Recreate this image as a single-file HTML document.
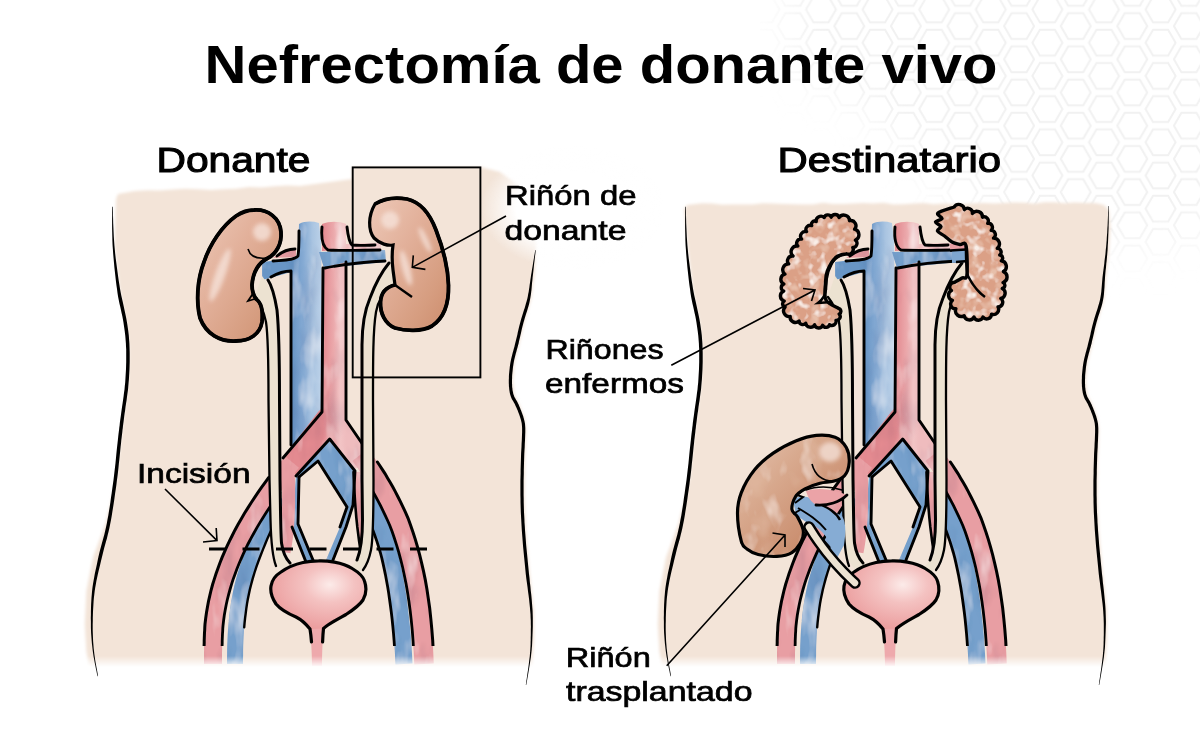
<!DOCTYPE html>
<html><head><meta charset="utf-8"><style>
html,body{margin:0;padding:0;background:#fff;}
body{width:1200px;height:746px;overflow:hidden;}
svg{display:block;}
text{font-family:"Liberation Sans",sans-serif;fill:#000;}
</style></head><body>
<svg width="1200" height="746" viewBox="0 0 1200 746">

<defs>
  <linearGradient id="kid" x1="0" y1="0" x2="1" y2="1">
    <stop offset="0" stop-color="#edc9b8"/><stop offset="0.4" stop-color="#e2b09a"/><stop offset="0.75" stop-color="#d69d80"/><stop offset="1" stop-color="#cc8c6c"/>
  </linearGradient>
  <linearGradient id="kidT" x1="0" y1="0" x2="1" y2="1">
    <stop offset="0" stop-color="#e6c4b1"/><stop offset="0.35" stop-color="#d8a98e"/><stop offset="0.7" stop-color="#cb9071"/><stop offset="1" stop-color="#bf7e5d"/>
  </linearGradient>
  <radialGradient id="blad" cx="0.62" cy="0.35" r="0.75">
    <stop offset="0" stop-color="#fcebe9"/><stop offset="0.35" stop-color="#f4c2c1"/><stop offset="1" stop-color="#e99596"/>
  </radialGradient>
  <linearGradient id="fadeB" gradientUnits="userSpaceOnUse" x1="0" y1="656" x2="0" y2="667">
    <stop offset="0" stop-color="#fff"/><stop offset="1" stop-color="#000"/>
  </linearGradient>
  <mask id="mB" maskUnits="userSpaceOnUse" x="0" y="0" width="1200" height="746">
    <rect x="0" y="0" width="1200" height="746" fill="url(#fadeB)"/>
  </mask>
  <radialGradient id="fadeTR">
    <stop offset="0" stop-color="#fff" stop-opacity="1"/><stop offset="0.6" stop-color="#fff" stop-opacity="1"/><stop offset="1" stop-color="#fff" stop-opacity="0"/>
  </radialGradient>
  <filter id="mottle" x="-0.1" y="-0.1" width="1.2" height="1.2">
    <feTurbulence type="fractalNoise" baseFrequency="0.11" numOctaves="2" seed="7" result="n"/>
    <feColorMatrix in="n" type="matrix" values="0 0 0 0 0.95  0 0 0 0 0.85  0 0 0 0 0.8  0 0 0 -3.6 1.75" result="light"/>
    <feComposite in="light" in2="SourceGraphic" operator="in" result="l2"/>
    <feTurbulence type="fractalNoise" baseFrequency="0.1" numOctaves="2" seed="21" result="n2"/>
    <feColorMatrix in="n2" type="matrix" values="0 0 0 0 0.8  0 0 0 0 0.52  0 0 0 0 0.4  0 0 0 3.4 -1.65" result="dark"/>
    <feComposite in="dark" in2="SourceGraphic" operator="in" result="d2"/>
    <feMerge><feMergeNode in="SourceGraphic"/><feMergeNode in="d2"/><feMergeNode in="l2"/></feMerge>
  </filter>
  <pattern id="hex" patternUnits="userSpaceOnUse" width="56.6" height="33.2" x="1019.1" y="26.1">
    <g fill="none" stroke="#f1f1f1" stroke-width="2">
      <path d="M-15,0 L-7.5,-13 L7.5,-13 L15,0 L7.5,13 L-7.5,13 Z"/>
      <path d="M41.6,0 L49.1,-13 L64.1,-13 L71.6,0 L64.1,13 L49.1,13 Z"/>
      <path d="M41.6,33.2 L49.1,20.2 L64.1,20.2 L71.6,33.2 L64.1,46.2 L49.1,46.2 Z"/>
      <path d="M-15,33.2 L-7.5,20.2 L7.5,20.2 L15,33.2 L7.5,46.2 L-7.5,46.2 Z"/>
      <path d="M13.3,16.6 L20.8,3.6 L35.8,3.6 L43.3,16.6 L35.8,29.6 L20.8,29.6 Z"/>
      <path d="M13.3,-16.6 L20.8,-29.6 L35.8,-29.6 L43.3,-16.6 L35.8,-3.6 L20.8,-3.6 Z"/>
      <path d="M13.3,49.8 L20.8,36.8 L35.8,36.8 L43.3,49.8 L35.8,62.8 L20.8,62.8 Z"/>
    </g>
  </pattern>
  <radialGradient id="hexfade" gradientUnits="userSpaceOnUse" cx="1090" cy="70" r="300" gradientTransform="translate(1090 70) scale(1.15 0.8) translate(-1090 -70)">
    <stop offset="0" stop-color="#fff"/><stop offset="0.55" stop-color="#fff"/><stop offset="1" stop-color="#000"/>
  </radialGradient>
  <filter id="mblur" x="-0.3" y="-0.3" width="1.6" height="1.6"><feGaussianBlur stdDeviation="22"/></filter>
  <mask id="mHex" maskUnits="userSpaceOnUse" x="0" y="0" width="1200" height="746">
    <path d="M790,-30 L1230,-30 L1230,230 L1130,250 L1040,235 L960,200 L900,150 L860,105 L800,80 L785,40 Z" fill="#fff" filter="url(#mblur)"/>
  </mask>
  <linearGradient id="gVC" gradientUnits="userSpaceOnUse" x1="292" y1="0" x2="321" y2="0">
    <stop offset="0" stop-color="#6895c5"/><stop offset="0.4" stop-color="#86abd4"/><stop offset="0.7" stop-color="#a9c4e1"/><stop offset="1" stop-color="#bbd1e8"/>
  </linearGradient>
  <linearGradient id="gAo" gradientUnits="userSpaceOnUse" x1="323" y1="0" x2="346" y2="0">
    <stop offset="0" stop-color="#e38a90"/><stop offset="0.45" stop-color="#eba8ab"/><stop offset="0.75" stop-color="#f2c4c5"/><stop offset="1" stop-color="#efbcbe"/>
  </linearGradient>
  <filter id="blur2" x="-0.5" y="-0.5" width="2" height="2"><feGaussianBlur stdDeviation="2"/></filter>
  <filter id="wcK" x="-0.05" y="-0.05" width="1.1" height="1.1">
    <feTurbulence type="fractalNoise" baseFrequency="0.05 0.03" numOctaves="3" seed="11" result="n"/>
    <feColorMatrix in="n" type="matrix" values="0 0 0 0 0.92  0 0 0 0 0.78  0 0 0 0 0.7  0 0 0 -2.0 0.9" result="light"/>
    <feComposite in="light" in2="SourceGraphic" operator="in" result="l2"/>
    <feTurbulence type="fractalNoise" baseFrequency="0.04" numOctaves="2" seed="5" result="n2"/>
    <feColorMatrix in="n2" type="matrix" values="0 0 0 0 0.74  0 0 0 0 0.47  0 0 0 0 0.34  0 0 0 2.2 -1.15" result="dark"/>
    <feComposite in="dark" in2="SourceGraphic" operator="in" result="d2"/>
    <feMerge><feMergeNode in="SourceGraphic"/><feMergeNode in="d2"/><feMergeNode in="l2"/></feMerge>
  </filter>
  <filter id="wcV" filterUnits="userSpaceOnUse" x="150" y="200" width="350" height="480">
    <feTurbulence type="fractalNoise" baseFrequency="0.06 0.022" numOctaves="3" seed="3" result="n"/>
    <feColorMatrix in="n" type="matrix" values="0 0 0 0 0  0 0 0 0 0  0 0 0 0 0  0 0 0 -2.0 0.95" result="m1"/>
    <feComponentTransfer in="SourceGraphic" result="lighter"><feFuncR type="linear" slope="0.45" intercept="0.55"/><feFuncG type="linear" slope="0.45" intercept="0.55"/><feFuncB type="linear" slope="0.45" intercept="0.55"/></feComponentTransfer>
    <feComposite in="lighter" in2="m1" operator="in" result="l1"/>
    <feComposite in="l1" in2="SourceGraphic" operator="in" result="l2"/>
    <feTurbulence type="fractalNoise" baseFrequency="0.05 0.02" numOctaves="3" seed="9" result="n2"/>
    <feColorMatrix in="n2" type="matrix" values="0 0 0 0 0  0 0 0 0 0  0 0 0 0 0  0 0 0 2.4 -1.1" result="m2"/>
    <feComponentTransfer in="SourceGraphic" result="darker"><feFuncR type="linear" slope="0.8"/><feFuncG type="linear" slope="0.8"/><feFuncB type="linear" slope="0.86"/></feComponentTransfer>
    <feComposite in="darker" in2="m2" operator="in" result="d1"/>
    <feComposite in="d1" in2="SourceGraphic" operator="in" result="d2"/>
    <feMerge><feMergeNode in="SourceGraphic"/><feMergeNode in="d2"/><feMergeNode in="l2"/></feMerge>
  </filter>
  <filter id="bsoft" x="-0.05" y="-0.05" width="1.1" height="1.1"><feGaussianBlur stdDeviation="1.6"/></filter>
  <clipPath id="clipLines"><rect x="0" y="0" width="1200" height="646"/></clipPath>
</defs>

<rect x="760" y="0" width="440" height="300" fill="url(#hex)" mask="url(#mHex)"/>
<g mask="url(#mB)">
<path d="M116.0,199.0 L118.0,194.0 L134.7,190.9 L147.4,190.2 L160.1,190.5 L172.9,189.5 L185.6,188.8 L198.3,189.2 L211.0,190.0 L223.7,189.3 L236.4,188.8 L249.1,187.0 L261.9,187.4 L274.6,186.3 L287.3,185.6 L300.0,186.0 L330.0,182.0 L352.0,179.0 L352.0,167.0 L481.0,167.0 L500.0,172.0 L518.0,185.0 L530.0,205.0 L537.0,230.0 L534.5,275.0 L531.2,299.0 L524.5,322.0 L519.5,343.0 L514.5,363.0 L512.9,381.6 L514.5,395.0 L519.5,405.0 L524.5,418.0 L526.2,430.0 L525.0,460.0 L524.5,495.0 L525.9,530.0 L529.5,570.0 L533.9,610.8 L534.0,640.0 L532.5,659.0 L532.0,672.0 L90.0,672.0 L86.4,651.2 L84.8,624.4 L86.4,590.9 L93.1,557.3 L105.5,523.8 L116.2,480.2 L120.6,440.0 L123.5,416.2 L127.9,382.7 L128.9,349.2 L126.2,322.4 L119.5,288.9 L114.5,245.3 Z" fill="#f3e4d8" filter="url(#bsoft)"/>
<path d="M684.0,209.0 L687.0,205.0 L702.1,203.2 L712.1,203.4 L722.2,204.8 L732.3,204.6 L742.4,204.5 L752.5,204.5 L762.5,203.2 L772.6,203.4 L782.7,204.0 L792.8,204.2 L802.8,204.4 L812.9,204.5 L823.0,202.8 L833.0,203.9 L843.1,204.0 L853.2,203.6 L863.3,202.9 L873.4,203.5 L883.4,202.7 L893.5,204.4 L903.6,204.2 L913.6,203.5 L923.7,203.0 L933.8,204.2 L943.9,203.5 L954.0,204.1 L964.0,204.0 L974.1,203.3 L984.2,203.1 L994.2,203.4 L1004.3,203.1 L1014.4,202.5 L1024.5,202.8 L1034.5,203.8 L1044.6,202.2 L1054.7,202.2 L1064.8,203.3 L1074.8,202.6 L1084.9,203.1 L1095.0,203.0 L1104.0,205.0 L1109.0,210.0 L1110.5,228.0 L1109.0,252.0 L1106.5,275.0 L1104.2,299.0 L1097.5,322.0 L1092.5,343.0 L1087.5,363.0 L1085.9,381.6 L1087.5,395.0 L1092.5,405.0 L1097.5,418.0 L1099.2,430.0 L1098.0,460.0 L1097.5,495.0 L1098.9,530.0 L1102.5,570.0 L1106.9,610.8 L1107.0,640.0 L1105.5,659.0 L1104.0,672.0 L663.0,672.0 L659.4,651.2 L657.8,624.4 L659.4,590.9 L666.1,557.3 L678.5,523.8 L689.2,480.2 L693.6,440.0 L696.5,416.2 L700.9,382.7 L701.9,349.2 L699.2,322.4 L692.5,288.9 L687.5,245.3 Z" fill="#f3e4d8" filter="url(#bsoft)"/>
<ellipse cx="572" cy="208" rx="92" ry="62" fill="url(#fadeTR)"/>

<g id="common">
<g filter="url(#wcV)">
<path d="M299,224 C305,221 312,221 319,223 L321,240 L322,300 L321,445 L292,445 L291,300 L291,272 L270,278 L262,280 L262,262 L298,258 Z" fill="url(#gVC)"/>
<g fill="#76a0cc">
  <path d="M319,252 L385,250 L386,262 L324,268 Z"/>
  <path d="M296,476 L329.7,440 L355,471 L353,505 L346,527 L334,560 L326,560 L340,527 L347,507 L318,461 L299,477 L298,524 L314,560 L306,562 L292,527 Z"/>
</g>
<path d="M279.0,497.0 L276.4,501.8 L273.7,506.9 L271.0,512.1 L268.3,517.5 L265.6,523.1 L263.0,528.9 L260.4,534.7 L257.9,540.6 L255.4,546.6 L253.1,552.6 L250.9,558.6 L248.8,564.6 L246.8,570.6 L245.0,576.5 L243.4,582.3 L242.0,588.0 L240.9,592.9 L240.0,597.7 L239.1,602.6 L238.4,607.5 L237.7,612.3 L237.1,617.1 L236.7,622.0 L236.2,626.8 L235.9,631.5 L235.6,636.3 L235.4,641.0 L235.2,645.7 L235.1,650.3 L235.1,654.9 L235.0,659.5 L235.0,664.0" fill="none" stroke="#76a0cc" stroke-width="16"/>
<path d="M357.0,477.0 L359.1,480.5 L361.2,484.3 L363.4,488.3 L365.7,492.6 L367.9,497.1 L370.2,501.7 L372.4,506.6 L374.6,511.6 L376.8,516.8 L378.9,522.1 L381.0,527.6 L383.0,533.1 L384.9,538.7 L386.7,544.4 L388.4,550.2 L390.0,556.0 L391.3,561.5 L392.5,567.2 L393.7,573.0 L394.9,578.9 L395.9,585.0 L397.0,591.3 L398.0,597.8 L398.9,604.4 L399.7,611.2 L400.5,618.1 L401.3,625.3 L402.0,632.6 L402.6,640.2 L403.1,647.9 L403.6,655.9 L404.0,664.0" fill="none" stroke="#76a0cc" stroke-width="17"/>
</g>
<g clip-path="url(#clipLines)"><path d="M286.0,500.9 L283.4,505.6 L280.8,510.6 L278.1,515.7 L275.5,521.0 L272.9,526.5 L270.3,532.2 L267.7,537.9 L265.3,543.7 L262.9,549.6 L260.6,555.5 L258.4,561.3 L256.3,567.2 L254.4,573.0 L252.7,578.7 L251.2,584.3 L249.8,589.8 L248.8,594.5 L247.8,599.2 L247.0,603.9 L246.3,608.6 L245.7,613.3 L245.1,618.0 L244.6,622.7 L244.2,627.4" fill="none" stroke="#000" stroke-width="2.4" stroke-linecap="round"/><path d="M355.9,492.3 L358.1,496.5 L360.3,500.8 L362.5,505.4 L364.7,510.1 L366.8,515.0 L368.9,520.0 L371.0,525.2 L373.0,530.5 L375.0,535.9 L376.9,541.4 L378.6,546.9 L380.3,552.5 L381.8,558.1 L383.0,563.4 L384.2,568.9 L385.4,574.6 L386.5,580.5 L387.6,586.5 L388.6,592.6 L389.5,599.0 L390.4,605.5 L391.3,612.2 L392.1,619.1 L392.8,626.1 L393.5,633.4 L394.1,640.8 L394.6,648.5 L395.1,656.3 L395.5,664.4" fill="none" stroke="#000" stroke-width="2.8" stroke-linecap="round"/></g>
<g filter="url(#wcV)">
<path d="M322,224 C330,221 338,221 346,224 L346,244 L381,243 L381,250 L322,251 Z" fill="url(#gAo)"/>
<path d="M323,268 L346,262 L346,420 L360,442 L369,458 L354,470 L329.7,440 L296,476 L283,458 L318,412 L322,408 Z" fill="url(#gAo)"/>
<g fill="#e89ea3">
  <path d="M273,258 C280,252 290,249 296,249 L296,257 Z"/>
</g>
<path d="M292.0,462.0 L288.9,465.8 L285.8,469.9 L282.5,474.1 L279.2,478.4 L275.9,482.9 L272.5,487.6 L269.1,492.3 L265.6,497.2 L262.2,502.3 L258.8,507.4 L255.5,512.6 L252.2,518.0 L249.0,523.4 L245.9,528.9 L242.9,534.4 L240.0,540.0 L237.4,545.2 L235.0,550.5 L232.7,555.7 L230.5,560.9 L228.4,566.1 L226.4,571.3 L224.6,576.5 L222.9,581.8 L221.3,587.0 L219.9,592.3 L218.5,597.6 L217.4,603.0 L216.3,608.4 L215.4,613.9 L214.6,619.4 L214.0,625.0 L213.8,627.8 L213.7,630.5 L213.5,633.1 L213.4,635.7 L213.3,638.3 L213.2,640.8 L213.2,643.2 L213.1,645.6 L213.1,648.0 L213.1,650.3 L213.0,652.7 L213.0,655.0 L213.0,657.2 L213.0,659.5 L213.0,661.7 L213.0,664.0" fill="none" stroke="#e89ea3" stroke-width="18"/>
<path d="M360.0,455.0 L362.3,457.9 L364.6,461.0 L366.9,464.2 L369.3,467.6 L371.7,471.1 L374.2,474.9 L376.6,478.8 L379.1,482.9 L381.6,487.1 L384.1,491.6 L386.6,496.2 L389.1,501.0 L391.6,506.0 L394.1,511.1 L396.6,516.5 L399.0,522.0 L401.4,528.5 L403.7,535.2 L406.0,542.2 L408.1,549.5 L410.2,557.1 L412.1,565.0 L413.9,573.2 L415.6,581.8 L417.2,590.6 L418.6,599.9 L419.9,609.6 L421.1,619.6 L422.1,630.0 L422.9,640.9 L423.5,652.2 L424.0,664.0" fill="none" stroke="#e89ea3" stroke-width="19.5"/>
<path d="M288.0,464.0 L288.2,469.8 L288.3,475.6 L288.5,481.3 L288.6,487.0 L288.6,492.7 L288.6,498.3 L288.6,503.9 L288.4,509.5 L288.2,515.0 L287.9,520.5 L287.6,525.9 L287.1,531.2 L286.5,536.5 L285.8,541.7 L285.0,546.9 L284.0,552.0" fill="none" stroke="#e89ea3" stroke-width="13"/>
<path d="M357.0,472.0 L357.2,477.2 L357.4,482.4 L357.7,487.5 L358.0,492.5 L358.3,497.5 L358.6,502.4 L359.0,507.3 L359.4,512.1 L359.8,516.9 L360.3,521.7 L360.8,526.5 L361.4,531.2 L362.0,535.9 L362.6,540.6 L363.3,545.3 L364.0,550.0" fill="none" stroke="#e89ea3" stroke-width="7"/>
</g>
<g clip-path="url(#clipLines)"><path d="M268.6,477.6 L265.2,482.3 L261.7,487.1 L258.2,492.1 L254.7,497.3 L251.3,502.5 L247.9,507.9 L244.5,513.3 L241.2,518.9 L238.0,524.5 L234.9,530.2 L232.0,536.0 L229.3,541.3 L226.8,546.7 L224.4,552.1 L222.1,557.4 L220.0,562.8 L218.0,568.2 L216.1,573.6 L214.3,579.1 L212.6,584.5 L211.1,590.0 L209.8,595.6 L208.5,601.2 L207.5,606.8 L206.5,612.5 L205.7,618.3 L205.0,624.1 L204.8,627.2 L204.7,630.0 L204.5,632.7 L204.4,635.4 L204.3,638.0 L204.2,640.5 L204.2,643.0 L204.1,645.4 L204.1,647.9 L204.1,650.2 L204.0,652.6 L204.0,654.9 L204.0,657.2 L204.0,659.5 L204.0,661.7 L204.0,664.0" fill="none" stroke="#000" stroke-width="3.0" stroke-linecap="round"/><path d="M279.8,492.8 L276.4,497.5 L273.0,502.4 L269.7,507.3 L266.4,512.3 L263.1,517.4 L259.9,522.6 L256.8,527.9 L253.8,533.2 L250.8,538.6 L248.0,544.0 L245.5,549.1 L243.2,554.2 L240.9,559.3 L238.8,564.3 L236.8,569.3 L234.9,574.4 L233.1,579.4 L231.5,584.4 L230.0,589.5 L228.6,594.6 L227.3,599.7 L226.2,604.8 L225.2,610.0 L224.3,615.2 L223.6,620.5 L223.0,625.9 L222.8,628.3 L222.7,631.0 L222.5,633.6 L222.4,636.1 L222.3,638.6 L222.2,641.0 L222.2,643.4 L222.1,645.8 L222.1,648.1 L222.1,650.4 L222.0,652.7 L222.0,655.0 L222.0,657.3 L222.0,659.5 L222.0,661.8 L222.0,664.0" fill="none" stroke="#000" stroke-width="2.8" stroke-linecap="round"/><path d="M377.4,462.0 L379.9,465.7 L382.4,469.6 L385.0,473.6 L387.5,477.9 L390.1,482.3 L392.7,486.8 L395.3,491.6 L397.8,496.5 L400.4,501.6 L402.9,506.9 L405.5,512.4 L408.1,518.3 L410.6,525.2 L413.0,532.2 L415.3,539.4 L417.5,546.9 L419.6,554.7 L421.6,562.8 L423.5,571.2 L425.3,579.9 L426.9,589.0 L428.3,598.5 L429.7,608.3 L430.8,618.6 L431.8,629.2 L432.7,640.3 L433.3,651.8 L433.8,663.6" fill="none" stroke="#000" stroke-width="3.0" stroke-linecap="round"/><path d="M365.9,480.2 L368.3,483.9 L370.7,487.9 L373.1,492.0 L375.5,496.3 L378.0,500.8 L380.4,505.4 L382.8,510.3 L385.2,515.3 L387.6,520.5 L389.9,525.7 L392.2,531.8 L394.4,538.3 L396.6,545.1 L398.7,552.2 L400.7,559.6 L402.6,567.2 L404.3,575.2 L406.0,583.6 L407.5,592.3 L408.9,601.3 L410.2,610.8 L411.3,620.6 L412.3,630.9 L413.1,641.6 L413.7,652.7 L414.2,664.4" fill="none" stroke="#000" stroke-width="2.8" stroke-linecap="round"/><path d="M353.5,472.1 L353.7,477.4 L353.9,482.5 L354.2,487.6 L354.5,492.7 L354.8,497.7 L355.1,502.6 L355.5,507.6 L355.9,512.4 L356.3,517.3 L356.8,522.1 L357.3,526.9 L357.9,531.6 L358.5,536.4 L359.1,541.1 L359.8,545.8 L360.5,550.5" fill="none" stroke="#000" stroke-width="2.6" stroke-linecap="round"/></g>
<g fill="none" stroke="#000" stroke-width="2.9" stroke-linecap="round" stroke-linejoin="round">
  <path d="M299,231 C299,240 299,250 298,256 C295,260 285,260 273,261"/>
  <path d="M271,277 C278,273 286,271 291,271 L291,445"/>
  <path d="M277,256 C283,251 290,249 295,249"/>
  <path d="M322,227 C321,238 323,247 328,250 C345,251 365,250 380,250"/>
  <path d="M347,227 C348,236 349,242 352,245 C360,246 370,245 375,245"/>
  <path d="M325,268 C340,265 360,262 385,261"/>
  <path d="M323,268 L322,412 L283,458"/>
  <path d="M346,262 L346,420 L372,458"/>
  <path d="M296,476 L329.7,439 L355,471 L353,505 L346,527 L333,560"/>
  <path d="M299,477 L318,461 L347,507 L340,527"/>
  <path d="M299,477 L298,524 L313,560"/>
  <path d="M292,527 L306,562"/>
</g>
<path d="M255,296 C259,300 264,312 266,322 C268,335 268.5,360 268.5,400 L269.5,480 L270.5,520 C271,540 273,555 278,564 C281,569 284,572 288,572 L294,566 C288,560 283,553 281.5,543 C280.5,530 280,500 279.5,480 L279,400 C279,360 279,330 276,310 C274,298 270,286 262,276 Z" fill="#ece2d1"/>
<path d="M390,262 C384,268 376,282 370,298 C364,312 362,325 362,345 L362,480 L362.5,520 C362.5,538 361,552 356,561 C354,565 351,567 348,568 L356,574 C362,570 368,562 371,550 C373,540 373.5,525 373.5,480 L373,400 C373,360 373,330 376,312 C378,300 384,292 394,285 Z" fill="#ece2d1"/>
<g fill="none" stroke="#000" stroke-linecap="round">
  <path d="M255,297 C259,302 264,312 266,322 C268,335 268.5,360 268.5,400 L269.5,480 L270.5,520 C271,540 272,556 276,566" stroke-width="2.3"/>
  <path d="M268,280 C272,286 275,298 277,310 C279,330 279.5,360 279.5,400 L280,480 C280.5,505 280.5,530 281.5,543 C283,553 286,559 290,563" stroke-width="3"/>
  <path d="M389,263 C384,269 376,282 370,298 C364,312 362,325 362,345 L362,480 L362.5,520 C362.5,538 361,550 357,560" stroke-width="3"/>
  <path d="M393,285 C385,291 378,300 376,312 C373,330 373,360 373,400 L373.5,480 C373.5,525 373,540 371,550 C369,560 366,566 363,570" stroke-width="2.3"/>
</g>
<path d="M309.5,624 L323.5,624 C322.8,640 322,652 322,666 L312,666 C312,652 311,640 309.5,624 Z" fill="#eea9ac"/>
<path d="M318.7,560.9 C326,560.6 342,562 352.2,568.5 C358,572 363,576 364.5,581 C366.5,587 366.5,594 363,600 C359,606 353,610 346,614.5 C338,619 330,623 323.5,628.5 L310,629 C306,624 302,620 296,617 C289,614 281,610 276,604 C272,598 270,592 271,586 C272,580 276,575 281,572 C288,567 296,564 303,562.5 C308,561.5 313,561 318.7,560.9 Z" fill="url(#blad)"/>
<path d="M311.5,642 C311,636 310.5,632 310,629 C306,624 302,620 296,617 C289,614 281,610 276,604 C272,598 270,592 271,586 C272,580 276,575 281,572 C288,567 296,564 303,562.5 C308,561.5 313,561 318.7,560.9 C326,560.6 342,562 352.2,568.5 C358,572 363,576 364.5,581 C366.5,587 366.5,594 363,600 C359,606 353,610 346,614.5 C338,619 330,623 323.5,628.5 C323,633 322.8,637 322.6,642" fill="none" stroke="#000" stroke-width="3.2" stroke-linecap="round"/>
</g>

<use href="#common" transform="translate(573,0)"/>
</g>

<path d="M254,210 C268,209 280,218 281,232 C282,244 276,254 268,258 C258,263 253,272 252,285 C252,292 254,296 256,299 C262,303 263,312 262,322 C260,334 250,341 236,341 C220,342 206,334 200,318 C196,302 197,280 204,262 C210,244 222,226 236,216 C242,212 248,210 254,210 Z" fill="url(#kid)" stroke="#000" stroke-width="3.2"/>
<g filter="url(#blur2)" fill="#f6e2d9" opacity="0.8">
  <ellipse cx="220" cy="275" rx="5" ry="28" transform="rotate(20 220 275)"/>
  <ellipse cx="262" cy="232" rx="9" ry="9"/>
</g>
<path d="M268,258 C258,263 253,272 252,285 C252,292 254,296 256,299 C262,303 263,312 262,322 C260,334 250,341 236,341 C220,342 206,334 200,318 C196,302 197,280 204,262 C210,244 222,226 236,216 C242,212 248,210 254,210 C268,209 280,218 281,232 C282,244 276,254 268,258" fill="none" stroke="#000" stroke-width="3.8"/>
<path d="M248,249 C250,256 256,259 266,258" fill="none" stroke="#000" stroke-width="1.6"/>
<path d="M254,292 L248,301 L258,298" fill="none" stroke="#000" stroke-width="1.8"/>
<path d="M375,204 C383,199 395,197 407,199 C420,202 430,214 436,230 C443,248 448,268 448.5,285 C449,303 444,318 432,326 C422,332 405,331 395,328 C385,324 380,313 380.5,302 C381,292 386,287 395,285 L393,270 C392,262 392,252 393,245 C388,246 380,244 374,238 C368,230 368,216 375,204 Z" fill="url(#kid)" stroke="#000" stroke-width="3.2"/>
<g filter="url(#blur2)" fill="#f6e2d9" opacity="0.8">
  <ellipse cx="390" cy="220" rx="9" ry="9"/>
  <ellipse cx="406" cy="268" rx="4" ry="18" transform="rotate(-15 406 268)"/>
  <ellipse cx="425" cy="240" rx="3" ry="14" transform="rotate(-25 425 240)"/>
</g>
<path d="M375,204 C383,199 395,197 407,199 C420,202 430,214 436,230 C443,248 448,268 448.5,285 C449,303 444,318 432,326 C422,332 405,331 395,328 C385,324 380,313 380.5,302 C381,292 386,287 395,285" fill="none" stroke="#000" stroke-width="3.8"/>
<path d="M395,285 L412,297" fill="none" stroke="#000" stroke-width="2.4"/>


<path d="M846.4,253.8 A4.8,4.8 0 0 0 852.8,247.5 A4.2,4.2 0 0 0 855.5,240.1 A5.8,5.8 0 0 0 854.6,229.2 A5.2,5.2 0 0 0 849.5,220.7 A5.7,5.7 0 0 0 839.1,217.5 A4.2,4.2 0 0 0 831.2,217.2 A3.7,3.7 0 0 0 824.2,217.6 A4.7,4.7 0 0 0 816.2,221.5 A3.2,3.2 0 0 0 811.7,225.6 A4.2,4.2 0 0 0 806.5,231.6 A4.8,4.8 0 0 0 801.5,239.1 A4.2,4.2 0 0 0 797.8,246.1 A5.8,5.8 0 0 0 793.0,256.1 A4.8,4.8 0 0 0 788.6,263.9 A5.8,5.8 0 0 0 784.9,274.2 A5.3,5.3 0 0 0 783.8,284.1 A3.7,3.7 0 0 0 783.7,291.1 A5.3,5.3 0 0 0 784.2,301.1 A3.2,3.2 0 0 0 785.1,307.0 A5.7,5.7 0 0 0 790.2,316.5 A5.3,5.3 0 0 0 799.1,321.0 A3.7,3.7 0 0 0 805.7,323.2 A4.8,4.8 0 0 0 814.6,324.8 A4.2,4.2 0 0 0 822.6,325.3 A3.7,3.7 0 0 0 829.5,324.7 A4.2,4.2 0 0 0 836.0,320.3 A3.7,3.7 0 0 0 839.2,314.1 A3.1,3.1 0 0 0 838.4,308.3 C836.4,307.0 828.2,304.2 826.0,300.0 C823.8,295.8 825.3,288.2 825.5,283.4 C825.7,278.6 825.5,275.5 827.3,271.2 C829.0,266.9 832.8,260.2 836.0,257.3 C839.2,254.4 844.7,254.4 846.4,253.8 Z" fill="#dba086" filter="url(#mottle)"/>
<path d="M846.4,253.8 A4.8,4.8 0 0 0 852.8,247.5 A4.2,4.2 0 0 0 855.5,240.1 A5.8,5.8 0 0 0 854.6,229.2 A5.2,5.2 0 0 0 849.5,220.7 A5.7,5.7 0 0 0 839.1,217.5 A4.2,4.2 0 0 0 831.2,217.2 A3.7,3.7 0 0 0 824.2,217.6 A4.7,4.7 0 0 0 816.2,221.5 A3.2,3.2 0 0 0 811.7,225.6 A4.2,4.2 0 0 0 806.5,231.6 A4.8,4.8 0 0 0 801.5,239.1 A4.2,4.2 0 0 0 797.8,246.1 A5.8,5.8 0 0 0 793.0,256.1 A4.8,4.8 0 0 0 788.6,263.9 A5.8,5.8 0 0 0 784.9,274.2 A5.3,5.3 0 0 0 783.8,284.1 A3.7,3.7 0 0 0 783.7,291.1 A5.3,5.3 0 0 0 784.2,301.1 A3.2,3.2 0 0 0 785.1,307.0 A5.7,5.7 0 0 0 790.2,316.5 A5.3,5.3 0 0 0 799.1,321.0 A3.7,3.7 0 0 0 805.7,323.2 A4.8,4.8 0 0 0 814.6,324.8 A4.2,4.2 0 0 0 822.6,325.3 A3.7,3.7 0 0 0 829.5,324.7 A4.2,4.2 0 0 0 836.0,320.3 A3.7,3.7 0 0 0 839.2,314.1 A3.1,3.1 0 0 0 838.4,308.3 C836.4,307.0 828.2,304.2 826.0,300.0 C823.8,295.8 825.3,288.2 825.5,283.4 C825.7,278.6 825.5,275.5 827.3,271.2 C829.0,266.9 832.8,260.2 836.0,257.3 C839.2,254.4 844.7,254.4 846.4,253.8 Z" fill="none" stroke="#000" stroke-width="3.4" stroke-linejoin="round"/>
<path d="M846,254 C840,256 836,258 833,262" fill="none" stroke="#000" stroke-width="1.4"/>
<path d="M836,257 C829,266 826,276 826,288 C826,296 822,300 818,303 L832,302" fill="none" stroke="#000" stroke-width="2.6"/>
<path d="M952,250.5 L968,248 L968,262 L952,263 Z" fill="#7fa6cf"/>
<path d="M950,244 L966,244 L966,250 L950,251 Z" fill="#e89ea3"/>
<path d="M950,250.5 L966,249.5 M956,262 L968,261" fill="none" stroke="#000" stroke-width="2.6"/>
<path d="M954.7,282.2 A4.8,4.8 0 0 0 951.4,290.6 A5.3,5.3 0 0 0 952.4,300.4 A4.7,4.7 0 0 0 955.9,308.7 A5.7,5.7 0 0 0 964.1,315.7 A5.3,5.3 0 0 0 974.0,317.1 A4.8,4.8 0 0 0 983.0,317.0 A4.7,4.7 0 0 0 991.5,314.2 A5.3,5.3 0 0 0 998.1,306.9 A4.7,4.7 0 0 0 1000.8,298.4 A5.3,5.3 0 0 0 1002.3,288.5 A3.2,3.2 0 0 0 1003.1,282.5 A5.8,5.8 0 0 0 1003.4,271.6 A5.8,5.8 0 0 0 1001.3,260.8 A3.2,3.2 0 0 0 999.7,255.0 A3.7,3.7 0 0 0 997.3,248.4 A5.8,5.8 0 0 0 993.5,238.1 A4.2,4.2 0 0 0 991.2,230.4 A4.2,4.2 0 0 0 987.7,223.3 A4.2,4.2 0 0 0 982.5,217.2 A5.7,5.7 0 0 0 972.4,213.4 A4.7,4.7 0 0 0 964.4,209.6 A5.6,5.6 0 0 0 954.1,207.0 C951.4,208.0 940.0,211.1 938.0,213.0 C936.0,214.9 942.4,217.0 942.0,218.5 C941.6,220.0 935.7,220.7 935.5,222.0 C935.3,223.3 940.7,225.0 941.0,226.5 C941.3,228.0 936.9,229.4 937.5,231.0 C938.1,232.6 942.1,234.2 944.5,236.0 C946.9,237.8 949.4,240.6 952.0,242.0 C954.6,243.4 957.7,243.9 960.0,244.5 C962.3,245.1 964.9,240.5 966.0,245.6 C967.1,250.7 967.6,269.8 966.9,275.2 C966.2,280.6 964.0,276.8 962.0,278.0 C960.0,279.2 955.9,281.5 954.7,282.2 Z" fill="#dba086" filter="url(#mottle)"/>
<path d="M954.7,282.2 A4.8,4.8 0 0 0 951.4,290.6 A5.3,5.3 0 0 0 952.4,300.4 A4.7,4.7 0 0 0 955.9,308.7 A5.7,5.7 0 0 0 964.1,315.7 A5.3,5.3 0 0 0 974.0,317.1 A4.8,4.8 0 0 0 983.0,317.0 A4.7,4.7 0 0 0 991.5,314.2 A5.3,5.3 0 0 0 998.1,306.9 A4.7,4.7 0 0 0 1000.8,298.4 A5.3,5.3 0 0 0 1002.3,288.5 A3.2,3.2 0 0 0 1003.1,282.5 A5.8,5.8 0 0 0 1003.4,271.6 A5.8,5.8 0 0 0 1001.3,260.8 A3.2,3.2 0 0 0 999.7,255.0 A3.7,3.7 0 0 0 997.3,248.4 A5.8,5.8 0 0 0 993.5,238.1 A4.2,4.2 0 0 0 991.2,230.4 A4.2,4.2 0 0 0 987.7,223.3 A4.2,4.2 0 0 0 982.5,217.2 A5.7,5.7 0 0 0 972.4,213.4 A4.7,4.7 0 0 0 964.4,209.6 A5.6,5.6 0 0 0 954.1,207.0 C951.4,208.0 940.0,211.1 938.0,213.0 C936.0,214.9 942.4,217.0 942.0,218.5 C941.6,220.0 935.7,220.7 935.5,222.0 C935.3,223.3 940.7,225.0 941.0,226.5 C941.3,228.0 936.9,229.4 937.5,231.0 C938.1,232.6 942.1,234.2 944.5,236.0 C946.9,237.8 949.4,240.6 952.0,242.0 C954.6,243.4 957.7,243.9 960.0,244.5 C962.3,245.1 964.9,240.5 966.0,245.6 C967.1,250.7 967.6,269.8 966.9,275.2 C966.2,280.6 964.0,276.8 962.0,278.0 C960.0,279.2 955.9,281.5 954.7,282.2 Z" fill="none" stroke="#000" stroke-width="3.4" stroke-linejoin="round"/>
<path d="M966,246 C966,260 966,270 968,276 C972,284 978,292 985,297" fill="none" stroke="#000" stroke-width="2.6"/>


<path d="M793,500 C800,494 810,496 818,502 C826,508 834,512 842,516 C846,522 846,532 844,545 L836,560 L828,540 C824,532 816,526 806,522 L796,515 Z" fill="#86acd4"/>
<path d="M806,522 C812,528 820,536 830,548" fill="none" stroke="#000" stroke-width="2.4"/>
<path d="M798,508 C808,514 818,520 826,530" fill="none" stroke="#000" stroke-width="2"/>
<path d="M820,504 C828,508 836,512 840,520" fill="none" stroke="#000" stroke-width="2.4"/>
<path d="M809,527 C818,542 832,562 855,583" fill="none" stroke="#000" stroke-width="11.5" stroke-linecap="round"/>
<path d="M809,527 C818,542 832,562 855,583" fill="none" stroke="#ece2d1" stroke-width="6.5" stroke-linecap="round"/>
<path d="M806,491 C818,487 834,489 847,495 C842,502 830,506 818,505 C812,504 808,498 806,491 Z" fill="#eba3a7"/>
<path d="M816,505 C828,506 840,502 847,495" fill="none" stroke="#000" stroke-width="2.8" stroke-linecap="round"/>
<path d="M806,490 C816,486 830,486 842,490" fill="none" stroke="#000" stroke-width="1.6" stroke-linecap="round"/>
<path d="M741.3,541.3 C739.7,535.3 737.5,521.3 737.5,513.2 C737.5,505.1 738.5,499.8 741.3,492.6 C744.1,485.4 749.1,476.6 754.4,470.0 C759.7,463.4 766.3,457.9 773.2,453.1 C780.1,448.3 788.5,444.0 795.7,441.0 C802.9,438.0 809.7,435.9 816.3,435.3 C822.9,434.7 830.1,435.2 835.1,437.2 C840.1,439.2 843.9,443.3 846.3,447.5 C848.6,451.7 849.5,457.8 849.2,462.5 C848.9,467.2 847.2,472.6 844.5,475.7 C841.8,478.8 837.3,480.1 833.2,481.3 C829.1,482.6 824.7,481.9 820.0,483.2 C815.3,484.4 809.0,486.6 805.0,488.8 C801.0,491.0 797.9,492.9 795.7,496.3 C793.5,499.7 791.6,505.9 791.9,509.4 C792.2,512.9 795.7,513.5 797.6,517.0 C799.5,520.5 802.6,526.1 803.2,530.1 C803.8,534.1 803.2,537.5 801.3,541.3 C799.4,545.0 796.0,550.1 791.9,552.6 C787.8,555.1 782.5,556.1 776.9,556.4 C771.3,556.7 763.2,555.8 758.2,554.5 C753.2,553.2 749.7,551.1 746.9,548.9 C744.1,546.7 742.9,547.2 741.3,541.3 Z" fill="url(#kidT)" filter="url(#wcK)"/>
<path d="M741.3,541.3 C739.7,535.3 737.5,521.3 737.5,513.2 C737.5,505.1 738.5,499.8 741.3,492.6 C744.1,485.4 749.1,476.6 754.4,470.0 C759.7,463.4 766.3,457.9 773.2,453.1 C780.1,448.3 788.5,444.0 795.7,441.0 C802.9,438.0 809.7,435.9 816.3,435.3 C822.9,434.7 830.1,435.2 835.1,437.2 C840.1,439.2 843.9,443.3 846.3,447.5 C848.6,451.7 849.5,457.8 849.2,462.5 C848.9,467.2 847.2,472.6 844.5,475.7 C841.8,478.8 837.3,480.1 833.2,481.3 C829.1,482.6 824.7,481.9 820.0,483.2 C815.3,484.4 809.0,486.6 805.0,488.8 C801.0,491.0 797.9,492.9 795.7,496.3 C793.5,499.7 791.6,505.9 791.9,509.4 C792.2,512.9 795.7,513.5 797.6,517.0 C799.5,520.5 802.6,526.1 803.2,530.1 C803.8,534.1 803.2,537.5 801.3,541.3 C799.4,545.0 796.0,550.1 791.9,552.6 C787.8,555.1 782.5,556.1 776.9,556.4 C771.3,556.7 763.2,555.8 758.2,554.5 C753.2,553.2 749.7,551.1 746.9,548.9 C744.1,546.7 742.9,547.2 741.3,541.3 Z" fill="none" stroke="#000" stroke-width="3.2"/>
<ellipse cx="830" cy="452" rx="11" ry="10" fill="#f2dcd1" opacity="0.85" filter="url(#blur2)"/>
<path d="M812,464 C815,475 822,481 833,481" fill="none" stroke="#000" stroke-width="1.6"/>
<path d="M805,489 L797,495 L803,497 L795,503 M800,510 L793,514" fill="none" stroke="#000" stroke-width="2"/>

<g fill="#000"><path d="M112.2,206.7 L112.2,209.0 L112.2,211.9 L112.2,215.3 L112.1,219.1 L112.1,223.3 L112.1,227.7 L112.2,232.2 L112.3,236.7 L112.4,241.1 L112.6,245.4 L112.9,249.6 L113.2,254.0 L113.6,258.4 L114.0,263.0 L114.4,267.6 L114.9,272.1 L115.4,276.6 L115.9,280.9 L116.4,285.1 L117.0,289.1 L117.5,293.0 L118.1,296.7 L118.8,300.3 L119.5,303.7 L120.3,307.1 L121.0,310.3 L121.7,313.5 L122.4,316.6 L123.0,319.7 L123.5,322.7 L123.9,325.6 L124.3,328.3 L124.7,331.0 L125.0,333.5 L125.3,336.0 L125.5,338.5 L125.7,341.0 L125.9,343.6 L126.0,346.4 L126.2,349.2 L126.2,352.3 L126.2,355.5 L126.2,358.7 L126.2,362.1 L126.1,365.5 L126.0,368.9 L125.8,372.4 L125.6,375.8 L125.4,379.2 L125.2,382.6 L124.8,385.9 L124.5,389.4 L124.0,392.8 L123.6,396.3 L123.1,399.8 L122.6,403.2 L122.1,406.6 L121.6,409.9 L121.2,413.0 L120.8,416.0 L120.4,418.7 L120.1,421.1 L119.8,423.3 L119.6,425.4 L119.3,427.5 L119.1,429.6 L118.8,431.8 L118.5,434.1 L118.2,436.8 L117.9,439.8 L117.5,443.2 L117.1,446.8 L116.7,450.6 L116.3,454.6 L115.9,458.7 L115.5,462.9 L115.0,467.2 L114.5,471.5 L114.0,475.8 L113.5,480.0 L112.9,484.2 L112.3,488.6 L111.7,493.1 L111.0,497.6 L110.4,502.2 L109.7,506.7 L109.0,511.1 L108.3,515.4 L107.5,519.5 L106.8,523.5 L106.0,527.2 L105.2,530.7 L104.4,534.2 L103.5,537.5 L102.6,540.7 L101.7,543.9 L100.9,547.1 L100.0,550.3 L99.2,553.6 L98.4,556.9 L97.7,560.3 L97.0,563.7 L96.3,567.0 L95.5,570.4 L94.8,573.8 L94.2,577.2 L93.6,580.6 L93.0,584.0 L92.5,587.3 L92.1,590.7 L91.8,594.2 L91.5,597.6 L91.3,601.1 L91.1,604.6 L91.0,608.0 L90.9,611.5 L90.9,614.8 L90.8,618.1 L90.9,621.3 L90.9,624.4 L90.9,627.4 L91.0,630.2 L91.1,633.0 L91.3,635.7 L91.5,638.4 L91.7,641.0 L91.9,643.6 L92.2,646.1 L92.5,648.7 L92.8,651.3 L93.2,654.0 L93.6,656.8 L94.2,659.7 L94.7,662.7 L95.3,665.5 L95.8,668.2 L96.4,670.7 L96.8,673.0 L97.2,674.9 L97.6,676.3 L98.0,676.3 L97.8,674.8 L97.5,672.8 L97.1,670.6 L96.6,668.1 L96.1,665.3 L95.6,662.5 L95.1,659.6 L94.7,656.6 L94.3,653.8 L94.0,651.1 L93.7,648.6 L93.5,646.0 L93.3,643.4 L93.1,640.9 L93.0,638.3 L92.9,635.6 L92.8,633.0 L92.7,630.2 L92.7,627.3 L92.7,624.4 L92.8,621.3 L92.8,618.1 L92.9,614.9 L93.0,611.5 L93.2,608.1 L93.4,604.7 L93.6,601.2 L93.9,597.8 L94.3,594.4 L94.7,591.1 L95.2,587.7 L95.8,584.4 L96.4,581.1 L97.1,577.8 L97.8,574.4 L98.6,571.1 L99.4,567.7 L100.2,564.4 L101.0,561.0 L101.8,557.7 L102.6,554.4 L103.4,551.2 L104.2,548.0 L105.1,544.8 L106.0,541.6 L106.9,538.4 L107.7,535.0 L108.6,531.5 L109.4,527.9 L110.2,524.1 L111.0,520.1 L111.7,516.0 L112.4,511.6 L113.1,507.2 L113.8,502.7 L114.5,498.1 L115.1,493.6 L115.8,489.1 L116.4,484.7 L116.9,480.4 L117.5,476.2 L118.0,471.9 L118.5,467.6 L118.9,463.3 L119.4,459.0 L119.8,454.9 L120.2,450.9 L120.6,447.1 L121.0,443.5 L121.3,440.2 L121.7,437.2 L122.0,434.5 L122.3,432.2 L122.5,430.0 L122.8,427.9 L123.0,425.8 L123.3,423.8 L123.6,421.5 L123.9,419.1 L124.2,416.4 L124.6,413.5 L125.1,410.4 L125.5,407.1 L126.0,403.8 L126.6,400.3 L127.0,396.8 L127.5,393.3 L128.0,389.8 L128.3,386.3 L128.6,382.8 L128.9,379.4 L129.1,376.0 L129.3,372.5 L129.5,369.0 L129.6,365.6 L129.7,362.2 L129.7,358.8 L129.7,355.5 L129.7,352.3 L129.6,349.2 L129.5,346.2 L129.4,343.4 L129.2,340.8 L129.0,338.2 L128.8,335.6 L128.5,333.1 L128.2,330.5 L127.8,327.8 L127.4,325.1 L126.9,322.1 L126.4,319.1 L125.8,315.9 L125.1,312.8 L124.4,309.6 L123.7,306.3 L123.0,303.0 L122.2,299.6 L121.4,296.0 L120.7,292.4 L120.0,288.7 L119.4,284.7 L118.7,280.6 L118.1,276.2 L117.5,271.8 L116.9,267.3 L116.3,262.7 L115.7,258.2 L115.2,253.8 L114.8,249.4 L114.4,245.2 L114.1,241.0 L113.8,236.6 L113.6,232.1 L113.4,227.6 L113.2,223.3 L113.1,219.1 L113.0,215.3 L113.0,211.9 L112.9,209.0 L112.8,206.7 Z"/><path d="M535.3,250.0 L535.0,251.5 L534.7,253.4 L534.3,255.6 L533.9,258.2 L533.4,260.9 L533.0,263.8 L532.5,266.7 L532.0,269.6 L531.6,272.3 L531.1,274.9 L530.8,277.3 L530.4,279.8 L530.1,282.2 L529.7,284.6 L529.4,287.0 L529.0,289.4 L528.7,291.7 L528.2,294.1 L527.8,296.4 L527.3,298.7 L526.7,301.0 L526.0,303.3 L525.4,305.6 L524.7,307.9 L523.9,310.2 L523.2,312.5 L522.5,314.8 L521.8,317.1 L521.1,319.3 L520.5,321.6 L519.9,323.8 L519.3,326.0 L518.8,328.1 L518.3,330.2 L517.8,332.3 L517.4,334.4 L516.9,336.5 L516.4,338.5 L515.9,340.6 L515.4,342.6 L514.9,344.6 L514.4,346.7 L513.8,348.7 L513.3,350.7 L512.7,352.7 L512.2,354.7 L511.7,356.8 L511.2,358.8 L510.8,360.7 L510.4,362.7 L510.1,364.7 L509.8,366.7 L509.6,368.7 L509.4,370.6 L509.2,372.6 L509.0,374.5 L508.9,376.4 L508.9,378.2 L508.8,379.9 L508.8,381.6 L508.8,383.2 L508.9,384.7 L508.9,386.2 L509.1,387.6 L509.2,389.0 L509.4,390.4 L509.6,391.7 L509.8,393.0 L510.1,394.2 L510.5,395.4 L510.9,396.7 L511.3,397.8 L511.8,398.9 L512.4,399.9 L512.9,400.8 L513.5,401.8 L514.0,402.7 L514.5,403.6 L515.0,404.6 L515.5,405.7 L516.0,406.8 L516.6,408.1 L517.1,409.3 L517.7,410.6 L518.2,412.0 L518.7,413.3 L519.2,414.6 L519.7,415.9 L520.1,417.2 L520.5,418.4 L520.8,419.6 L521.1,420.6 L521.3,421.5 L521.5,422.3 L521.7,423.2 L521.8,424.1 L521.9,425.2 L522.0,426.5 L522.1,428.1 L522.1,430.0 L522.1,432.2 L522.0,434.7 L521.9,437.5 L521.8,440.4 L521.6,443.5 L521.5,446.7 L521.3,450.0 L521.1,453.3 L521.0,456.7 L520.9,460.0 L520.8,463.3 L520.7,466.6 L520.6,470.1 L520.6,473.6 L520.5,477.2 L520.4,480.7 L520.4,484.3 L520.4,487.9 L520.4,491.5 L520.4,495.0 L520.5,498.5 L520.5,502.0 L520.6,505.4 L520.7,508.8 L520.8,512.3 L521.0,515.7 L521.2,519.2 L521.4,522.8 L521.6,526.4 L521.8,530.1 L522.1,533.9 L522.4,537.8 L522.7,541.7 L523.0,545.7 L523.4,549.8 L523.8,553.9 L524.2,557.9 L524.6,562.0 L525.0,566.1 L525.4,570.2 L525.8,574.3 L526.3,578.5 L526.9,582.7 L527.5,587.0 L528.0,591.2 L528.6,595.4 L529.1,599.5 L529.5,603.5 L529.9,607.3 L530.2,610.9 L530.5,614.3 L530.6,617.6 L530.8,620.8 L530.8,623.8 L530.9,626.8 L530.8,629.6 L530.8,632.3 L530.8,635.0 L530.7,637.5 L530.7,640.0 L530.6,642.3 L530.6,644.3 L530.5,646.2 L530.4,647.9 L530.3,649.6 L530.2,651.3 L530.0,653.0 L529.9,654.8 L529.7,656.8 L529.4,658.9 L529.1,661.4 L528.8,664.1 L528.4,667.0 L528.0,670.1 L527.5,673.1 L527.1,676.1 L526.7,678.8 L526.3,681.3 L526.0,683.4 L525.8,685.0 L526.2,685.0 L526.5,683.5 L526.9,681.4 L527.3,678.9 L527.8,676.2 L528.3,673.2 L528.8,670.2 L529.3,667.2 L529.8,664.2 L530.2,661.5 L530.6,659.1 L530.9,656.9 L531.1,655.0 L531.3,653.2 L531.5,651.4 L531.7,649.8 L531.8,648.0 L532.0,646.3 L532.1,644.4 L532.2,642.3 L532.3,640.0 L532.4,637.6 L532.5,635.0 L532.6,632.4 L532.7,629.6 L532.8,626.8 L532.8,623.8 L532.8,620.7 L532.8,617.5 L532.7,614.2 L532.6,610.7 L532.3,607.1 L532.0,603.2 L531.7,599.2 L531.3,595.1 L530.8,590.9 L530.4,586.6 L529.9,582.4 L529.5,578.1 L529.0,573.9 L528.6,569.8 L528.2,565.8 L527.8,561.7 L527.4,557.6 L527.0,553.6 L526.6,549.5 L526.2,545.5 L525.9,541.5 L525.6,537.5 L525.3,533.7 L525.0,529.9 L524.8,526.2 L524.5,522.6 L524.4,519.1 L524.2,515.6 L524.0,512.1 L523.9,508.7 L523.8,505.3 L523.7,501.9 L523.7,498.4 L523.6,495.0 L523.6,491.5 L523.6,487.9 L523.6,484.4 L523.6,480.8 L523.7,477.2 L523.8,473.7 L523.8,470.2 L523.9,466.7 L524.0,463.3 L524.1,460.0 L524.2,456.8 L524.3,453.5 L524.5,450.1 L524.7,446.9 L524.8,443.6 L525.0,440.5 L525.1,437.6 L525.2,434.8 L525.3,432.3 L525.3,430.0 L525.3,428.0 L525.2,426.4 L525.1,425.0 L525.0,423.8 L524.8,422.7 L524.6,421.7 L524.4,420.7 L524.1,419.8 L523.9,418.7 L523.5,417.6 L523.2,416.3 L522.7,414.9 L522.2,413.5 L521.7,412.2 L521.2,410.8 L520.6,409.4 L520.1,408.1 L519.5,406.8 L519.0,405.5 L518.5,404.3 L517.9,403.2 L517.4,402.1 L516.8,401.1 L516.2,400.1 L515.7,399.2 L515.2,398.3 L514.7,397.4 L514.2,396.5 L513.9,395.6 L513.5,394.6 L513.2,393.4 L513.0,392.3 L512.7,391.1 L512.5,389.9 L512.4,388.6 L512.2,387.4 L512.1,386.0 L512.1,384.6 L512.0,383.1 L512.0,381.6 L512.0,380.0 L512.1,378.3 L512.1,376.5 L512.2,374.7 L512.4,372.8 L512.6,370.9 L512.8,369.0 L513.0,367.1 L513.3,365.2 L513.6,363.3 L513.9,361.4 L514.3,359.5 L514.8,357.5 L515.3,355.6 L515.8,353.6 L516.4,351.6 L516.9,349.5 L517.5,347.5 L518.0,345.4 L518.6,343.4 L519.0,341.3 L519.5,339.3 L520.0,337.2 L520.5,335.1 L521.0,333.0 L521.4,331.0 L521.9,328.8 L522.4,326.7 L523.0,324.6 L523.5,322.4 L524.2,320.2 L524.8,318.0 L525.5,315.8 L526.2,313.5 L527.0,311.2 L527.7,308.8 L528.4,306.5 L529.1,304.1 L529.6,301.7 L530.1,299.3 L530.5,296.9 L530.9,294.5 L531.2,292.1 L531.5,289.7 L531.7,287.3 L531.9,284.8 L532.1,282.4 L532.4,280.0 L532.6,277.6 L532.9,275.1 L533.2,272.5 L533.5,269.8 L533.8,266.9 L534.1,264.0 L534.5,261.1 L534.8,258.3 L535.1,255.7 L535.4,253.5 L535.6,251.5 L535.7,250.0 Z"/><path d="M685.2,206.7 L685.2,209.0 L685.2,211.9 L685.2,215.3 L685.1,219.1 L685.1,223.3 L685.1,227.7 L685.2,232.2 L685.3,236.7 L685.4,241.1 L685.6,245.4 L685.9,249.6 L686.2,254.0 L686.6,258.4 L687.0,263.0 L687.4,267.6 L687.9,272.1 L688.4,276.6 L688.9,280.9 L689.4,285.1 L690.0,289.1 L690.5,293.0 L691.1,296.7 L691.8,300.3 L692.5,303.7 L693.3,307.1 L694.0,310.3 L694.7,313.5 L695.4,316.6 L696.0,319.7 L696.5,322.7 L696.9,325.6 L697.3,328.3 L697.7,331.0 L698.0,333.5 L698.3,336.0 L698.5,338.5 L698.7,341.0 L698.9,343.6 L699.0,346.4 L699.2,349.2 L699.2,352.3 L699.2,355.5 L699.2,358.7 L699.2,362.1 L699.1,365.5 L699.0,368.9 L698.8,372.4 L698.6,375.8 L698.4,379.2 L698.2,382.6 L697.8,385.9 L697.5,389.4 L697.0,392.8 L696.6,396.3 L696.1,399.8 L695.6,403.2 L695.1,406.6 L694.6,409.9 L694.2,413.0 L693.8,416.0 L693.4,418.7 L693.1,421.1 L692.8,423.3 L692.6,425.4 L692.3,427.5 L692.1,429.6 L691.8,431.8 L691.5,434.1 L691.2,436.8 L690.9,439.8 L690.5,443.2 L690.1,446.8 L689.7,450.6 L689.3,454.6 L688.9,458.7 L688.5,462.9 L688.0,467.2 L687.5,471.5 L687.0,475.8 L686.5,480.0 L685.9,484.2 L685.3,488.6 L684.7,493.1 L684.0,497.6 L683.4,502.2 L682.7,506.7 L682.0,511.1 L681.3,515.4 L680.5,519.5 L679.8,523.5 L679.0,527.2 L678.2,530.7 L677.4,534.2 L676.5,537.5 L675.6,540.7 L674.7,543.9 L673.9,547.1 L673.0,550.3 L672.2,553.6 L671.4,556.9 L670.7,560.3 L670.0,563.7 L669.3,567.0 L668.5,570.4 L667.8,573.8 L667.2,577.2 L666.6,580.6 L666.0,584.0 L665.5,587.3 L665.1,590.7 L664.8,594.2 L664.5,597.6 L664.3,601.1 L664.1,604.6 L664.0,608.0 L663.9,611.5 L663.9,614.8 L663.8,618.1 L663.9,621.3 L663.9,624.4 L663.9,627.4 L664.0,630.2 L664.1,633.0 L664.3,635.7 L664.5,638.4 L664.7,641.0 L664.9,643.6 L665.2,646.1 L665.5,648.7 L665.8,651.3 L666.2,654.0 L666.6,656.8 L667.2,659.7 L667.7,662.7 L668.3,665.5 L668.8,668.2 L669.4,670.7 L669.8,673.0 L670.2,674.9 L670.6,676.3 L671.0,676.3 L670.8,674.8 L670.5,672.8 L670.1,670.6 L669.6,668.1 L669.1,665.3 L668.6,662.5 L668.1,659.6 L667.7,656.6 L667.3,653.8 L667.0,651.1 L666.7,648.6 L666.5,646.0 L666.3,643.4 L666.1,640.9 L666.0,638.3 L665.9,635.6 L665.8,633.0 L665.7,630.2 L665.7,627.3 L665.7,624.4 L665.8,621.3 L665.8,618.1 L665.9,614.9 L666.0,611.5 L666.2,608.1 L666.4,604.7 L666.6,601.2 L666.9,597.8 L667.3,594.4 L667.7,591.1 L668.2,587.7 L668.8,584.4 L669.4,581.1 L670.1,577.8 L670.8,574.4 L671.6,571.1 L672.4,567.7 L673.2,564.4 L674.0,561.0 L674.8,557.7 L675.6,554.4 L676.4,551.2 L677.2,548.0 L678.1,544.8 L679.0,541.6 L679.9,538.4 L680.7,535.0 L681.6,531.5 L682.4,527.9 L683.2,524.1 L684.0,520.1 L684.7,516.0 L685.4,511.6 L686.1,507.2 L686.8,502.7 L687.5,498.1 L688.1,493.6 L688.8,489.1 L689.4,484.7 L689.9,480.4 L690.5,476.2 L691.0,471.9 L691.5,467.6 L691.9,463.3 L692.4,459.0 L692.8,454.9 L693.2,450.9 L693.6,447.1 L694.0,443.5 L694.3,440.2 L694.7,437.2 L695.0,434.5 L695.3,432.2 L695.5,430.0 L695.8,427.9 L696.0,425.8 L696.3,423.8 L696.6,421.5 L696.9,419.1 L697.2,416.4 L697.6,413.5 L698.1,410.4 L698.5,407.1 L699.0,403.8 L699.6,400.3 L700.0,396.8 L700.5,393.3 L701.0,389.8 L701.3,386.3 L701.6,382.8 L701.9,379.4 L702.1,376.0 L702.3,372.5 L702.5,369.0 L702.6,365.6 L702.7,362.2 L702.7,358.8 L702.7,355.5 L702.7,352.3 L702.6,349.2 L702.5,346.2 L702.4,343.4 L702.2,340.8 L702.0,338.2 L701.8,335.6 L701.5,333.1 L701.2,330.5 L700.8,327.8 L700.4,325.1 L699.9,322.1 L699.4,319.1 L698.8,315.9 L698.1,312.8 L697.4,309.6 L696.7,306.3 L696.0,303.0 L695.2,299.6 L694.4,296.0 L693.7,292.4 L693.0,288.7 L692.4,284.7 L691.7,280.6 L691.1,276.2 L690.5,271.8 L689.9,267.3 L689.3,262.7 L688.7,258.2 L688.2,253.8 L687.8,249.4 L687.4,245.2 L687.1,241.0 L686.8,236.6 L686.6,232.1 L686.4,227.6 L686.2,223.3 L686.1,219.1 L686.0,215.3 L686.0,211.9 L685.9,209.0 L685.8,206.7 Z"/><path d="M1108.3,206.0 L1108.2,207.3 L1108.2,209.0 L1108.1,210.9 L1108.0,213.1 L1108.0,215.5 L1107.9,218.0 L1107.8,220.5 L1107.7,223.1 L1107.6,225.6 L1107.4,228.0 L1107.3,230.3 L1107.2,232.7 L1107.0,235.0 L1106.8,237.5 L1106.7,239.9 L1106.5,242.3 L1106.3,244.8 L1106.1,247.2 L1105.8,249.6 L1105.6,251.9 L1105.4,254.2 L1105.1,256.6 L1104.8,258.8 L1104.5,261.1 L1104.3,263.4 L1104.0,265.7 L1103.7,267.9 L1103.4,270.2 L1103.1,272.5 L1102.8,274.9 L1102.5,277.3 L1102.3,279.7 L1102.1,282.1 L1101.9,284.5 L1101.7,286.9 L1101.5,289.3 L1101.3,291.7 L1101.0,294.1 L1100.6,296.4 L1100.2,298.7 L1099.7,301.0 L1099.1,303.3 L1098.4,305.6 L1097.7,307.9 L1097.0,310.2 L1096.2,312.5 L1095.5,314.8 L1094.8,317.1 L1094.1,319.3 L1093.5,321.6 L1092.9,323.8 L1092.3,326.0 L1091.8,328.1 L1091.3,330.2 L1090.8,332.3 L1090.4,334.4 L1089.9,336.5 L1089.4,338.5 L1088.9,340.6 L1088.4,342.6 L1087.9,344.6 L1087.4,346.7 L1086.8,348.7 L1086.3,350.7 L1085.7,352.7 L1085.2,354.7 L1084.7,356.8 L1084.2,358.8 L1083.8,360.7 L1083.4,362.7 L1083.1,364.7 L1082.8,366.7 L1082.6,368.7 L1082.4,370.6 L1082.2,372.6 L1082.0,374.5 L1081.9,376.4 L1081.9,378.2 L1081.8,379.9 L1081.8,381.6 L1081.8,383.2 L1081.9,384.7 L1081.9,386.2 L1082.1,387.6 L1082.2,389.0 L1082.4,390.4 L1082.6,391.7 L1082.8,393.0 L1083.1,394.2 L1083.5,395.4 L1083.9,396.7 L1084.3,397.8 L1084.8,398.9 L1085.4,399.9 L1085.9,400.8 L1086.5,401.8 L1087.0,402.7 L1087.5,403.6 L1088.0,404.6 L1088.5,405.7 L1089.0,406.8 L1089.6,408.1 L1090.1,409.3 L1090.7,410.6 L1091.2,412.0 L1091.7,413.3 L1092.2,414.6 L1092.7,415.9 L1093.1,417.2 L1093.5,418.4 L1093.8,419.6 L1094.1,420.6 L1094.3,421.5 L1094.5,422.3 L1094.7,423.2 L1094.8,424.1 L1094.9,425.2 L1095.0,426.5 L1095.1,428.1 L1095.1,430.0 L1095.1,432.2 L1095.0,434.7 L1094.9,437.5 L1094.8,440.4 L1094.6,443.5 L1094.5,446.7 L1094.3,450.0 L1094.1,453.3 L1094.0,456.7 L1093.9,460.0 L1093.8,463.3 L1093.7,466.6 L1093.6,470.1 L1093.6,473.6 L1093.5,477.2 L1093.4,480.7 L1093.4,484.3 L1093.4,487.9 L1093.4,491.5 L1093.4,495.0 L1093.5,498.5 L1093.5,502.0 L1093.6,505.4 L1093.7,508.8 L1093.8,512.3 L1094.0,515.7 L1094.2,519.2 L1094.4,522.8 L1094.6,526.4 L1094.8,530.1 L1095.1,533.9 L1095.4,537.8 L1095.7,541.7 L1096.0,545.7 L1096.4,549.8 L1096.8,553.9 L1097.2,557.9 L1097.6,562.0 L1098.0,566.1 L1098.4,570.2 L1098.8,574.3 L1099.3,578.5 L1099.9,582.7 L1100.4,587.0 L1101.0,591.2 L1101.5,595.4 L1102.0,599.5 L1102.5,603.5 L1102.9,607.3 L1103.2,610.9 L1103.4,614.3 L1103.6,617.6 L1103.7,620.8 L1103.8,623.8 L1103.8,626.8 L1103.8,629.6 L1103.8,632.3 L1103.8,635.0 L1103.7,637.5 L1103.7,640.0 L1103.6,642.3 L1103.6,644.3 L1103.5,646.2 L1103.4,647.9 L1103.3,649.6 L1103.2,651.3 L1103.0,653.0 L1102.9,654.8 L1102.7,656.8 L1102.4,658.9 L1102.1,661.4 L1101.8,664.1 L1101.4,667.0 L1101.0,670.1 L1100.5,673.1 L1100.1,676.1 L1099.7,678.8 L1099.3,681.3 L1099.0,683.4 L1098.8,685.0 L1099.2,685.0 L1099.5,683.5 L1099.9,681.4 L1100.3,678.9 L1100.8,676.2 L1101.3,673.3 L1101.8,670.2 L1102.3,667.2 L1102.8,664.2 L1103.2,661.5 L1103.6,659.1 L1103.9,656.9 L1104.1,655.0 L1104.3,653.2 L1104.5,651.4 L1104.7,649.8 L1104.9,648.0 L1105.0,646.3 L1105.1,644.4 L1105.2,642.3 L1105.3,640.0 L1105.4,637.6 L1105.5,635.0 L1105.6,632.4 L1105.7,629.6 L1105.8,626.8 L1105.9,623.8 L1105.9,620.7 L1105.8,617.5 L1105.7,614.2 L1105.6,610.7 L1105.4,607.1 L1105.1,603.2 L1104.7,599.2 L1104.3,595.1 L1103.9,590.9 L1103.4,586.6 L1102.9,582.4 L1102.5,578.1 L1102.0,573.9 L1101.6,569.8 L1101.2,565.8 L1100.8,561.7 L1100.4,557.6 L1100.0,553.6 L1099.6,549.5 L1099.2,545.5 L1098.9,541.5 L1098.6,537.5 L1098.3,533.7 L1098.0,529.9 L1097.8,526.2 L1097.5,522.6 L1097.4,519.1 L1097.2,515.6 L1097.0,512.1 L1096.9,508.7 L1096.8,505.3 L1096.7,501.9 L1096.7,498.4 L1096.6,495.0 L1096.6,491.5 L1096.6,487.9 L1096.6,484.4 L1096.6,480.8 L1096.7,477.2 L1096.8,473.7 L1096.8,470.2 L1096.9,466.7 L1097.0,463.3 L1097.1,460.0 L1097.2,456.8 L1097.3,453.5 L1097.5,450.1 L1097.7,446.9 L1097.8,443.6 L1098.0,440.5 L1098.1,437.6 L1098.2,434.8 L1098.3,432.3 L1098.3,430.0 L1098.3,428.0 L1098.2,426.4 L1098.1,425.0 L1098.0,423.8 L1097.8,422.7 L1097.6,421.7 L1097.4,420.7 L1097.1,419.8 L1096.9,418.7 L1096.5,417.6 L1096.2,416.3 L1095.7,414.9 L1095.2,413.5 L1094.7,412.2 L1094.2,410.8 L1093.6,409.4 L1093.1,408.1 L1092.5,406.8 L1092.0,405.5 L1091.5,404.3 L1090.9,403.2 L1090.4,402.1 L1089.8,401.1 L1089.2,400.1 L1088.7,399.2 L1088.2,398.3 L1087.7,397.4 L1087.2,396.5 L1086.9,395.6 L1086.5,394.6 L1086.2,393.4 L1086.0,392.3 L1085.7,391.1 L1085.5,389.9 L1085.4,388.6 L1085.2,387.4 L1085.1,386.0 L1085.1,384.6 L1085.0,383.1 L1085.0,381.6 L1085.0,380.0 L1085.1,378.3 L1085.1,376.5 L1085.2,374.7 L1085.4,372.8 L1085.6,370.9 L1085.8,369.0 L1086.0,367.1 L1086.3,365.2 L1086.6,363.3 L1086.9,361.4 L1087.3,359.5 L1087.8,357.5 L1088.3,355.6 L1088.8,353.6 L1089.4,351.6 L1089.9,349.5 L1090.5,347.5 L1091.0,345.4 L1091.6,343.4 L1092.0,341.3 L1092.5,339.3 L1093.0,337.2 L1093.5,335.1 L1094.0,333.0 L1094.4,331.0 L1094.9,328.8 L1095.4,326.7 L1096.0,324.6 L1096.5,322.4 L1097.2,320.2 L1097.8,318.0 L1098.5,315.8 L1099.3,313.5 L1100.0,311.2 L1100.8,308.8 L1101.5,306.5 L1102.2,304.1 L1102.7,301.7 L1103.2,299.3 L1103.6,296.9 L1103.9,294.4 L1104.1,292.0 L1104.3,289.5 L1104.5,287.1 L1104.6,284.7 L1104.7,282.2 L1104.9,279.8 L1105.0,277.5 L1105.2,275.1 L1105.4,272.8 L1105.6,270.5 L1105.9,268.2 L1106.1,265.9 L1106.3,263.6 L1106.6,261.3 L1106.8,259.0 L1107.0,256.7 L1107.2,254.4 L1107.4,252.1 L1107.6,249.7 L1107.7,247.3 L1107.8,244.9 L1108.0,242.4 L1108.1,240.0 L1108.2,237.5 L1108.3,235.1 L1108.4,232.7 L1108.5,230.4 L1108.6,228.0 L1108.6,225.6 L1108.7,223.1 L1108.7,220.6 L1108.7,218.0 L1108.7,215.5 L1108.7,213.1 L1108.7,210.9 L1108.7,209.0 L1108.7,207.3 L1108.7,206.0 Z"/></g>

<rect x="352.7" y="167.4" width="127.7" height="210" fill="none" stroke="#000" stroke-width="1.9"/>
<g fill="none" stroke="#000" stroke-width="1.6">
  <path d="M506,216 L412.3,267.4 M413.3,255.4 L412.3,267.4 L425.4,269.4"/>
  <path d="M165,489 L217,540.6 M216.2,528 L217,540.6 L203,542"/>
</g>
<path d="M209,549 H428" stroke="#000" stroke-width="3" stroke-dasharray="17 16.5"/>


<g fill="none" stroke="#000" stroke-width="1.6">
  <path d="M671.3,365.3 L815,290 M803,288.5 L815,290 L811.5,301"/>
  <path d="M666.7,665.8 L785,535 M772.5,533 L785,535 L785,547"/>
</g>


<text x="204.5" y="83.1" font-size="53" font-weight="bold" textLength="793" lengthAdjust="spacingAndGlyphs">Nefrectomía de donante vivo</text>
<g stroke="#000" stroke-width="1.1">
<text x="156.5" y="171.5" font-size="35.8" textLength="154" lengthAdjust="spacingAndGlyphs">Donante</text>
<text x="777.5" y="172" font-size="35.8" textLength="223.5" lengthAdjust="spacingAndGlyphs">Destinatario</text>
</g>
<g stroke="#000" stroke-width="0.7">
<text x="505" y="205" font-size="28" textLength="131.5" lengthAdjust="spacingAndGlyphs">Riñón de</text>
<text x="504.5" y="239.7" font-size="28" textLength="122" lengthAdjust="spacingAndGlyphs">donante</text>
<text x="545.5" y="358.7" font-size="28" textLength="118" lengthAdjust="spacingAndGlyphs">Riñones</text>
<text x="545" y="393.3" font-size="28" textLength="139" lengthAdjust="spacingAndGlyphs">enfermos</text>
<text x="565.8" y="666.7" font-size="28" textLength="85" lengthAdjust="spacingAndGlyphs">Riñón</text>
<text x="566" y="700.8" font-size="28" textLength="186.5" lengthAdjust="spacingAndGlyphs">trasplantado</text>
<text x="137" y="483.2" font-size="28.5" textLength="113.5" lengthAdjust="spacingAndGlyphs">Incisión</text>
</g>

</svg>
</body></html>
